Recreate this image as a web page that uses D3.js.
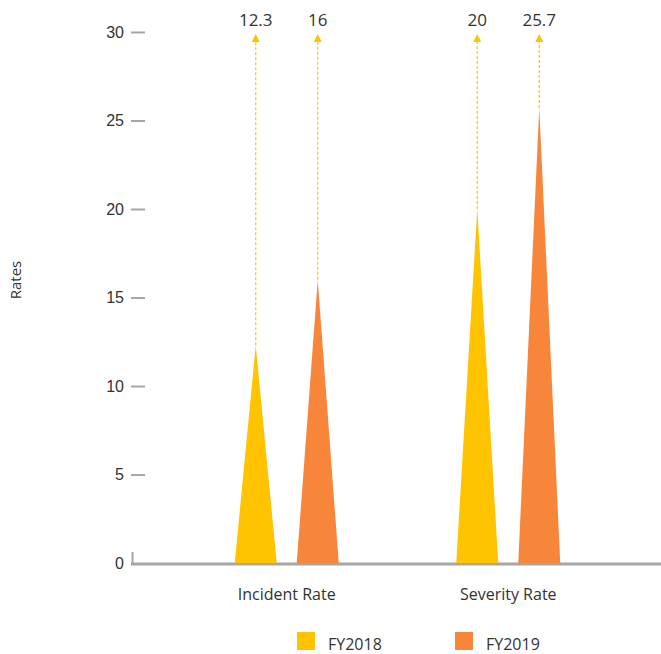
<!DOCTYPE html>
<html>
<head>
<meta charset="utf-8">
<script src="https://cdn.jsdelivr.net/npm/d3@7"></script>
<style>
  body { margin: 0; background: #fff; }
  svg { display: block; font-family: "Open Sans", sans-serif; }
</style>
</head>
<body>
<div class="container"></div>
<script>
// chart data
const categories = ["Incident Rate", "Severity Rate"];
const series = ["FY2018", "FY2019"];
const fy2018 = [12.3, 20];
const fy2019 = [16, 25.7];
const yTicks = [0, 5, 10, 15, 20, 25, 30];
const colors = ["#FFC300", "#F7863A"];

const w = 661, h = 654;
const values = [fy2018, fy2019];

const svg = d3.select(".container").append("svg")
    .attr("width", w)
    .attr("height", h);

/* scales */
const yScale = d3.scaleLinear().domain([0, 30]).range([563, 32]);
const xScale = d3.scaleBand().domain(categories).range([176, 619]);
const xInner = d3.scalePoint().domain(series).range([-31, 31]);
const halfBase = 21;

/* y axis - ticks only */
const yAxis = d3.axisLeft(yScale).tickValues(yTicks).tickSize(14).tickPadding(7);
const gy = svg.append("g")
    .attr("transform", "translate(145, 0)")
    .call(yAxis);
gy.select(".domain").remove();
gy.selectAll(".tick line").attr("stroke", "#a6a6a6").attr("stroke-width", 2);
gy.selectAll(".tick text")
    .attr("fill", "#333")
    .style("font-size", "16px");
gy.selectAll(".tick").filter(d => d === 0).select("line").remove();

/* baseline */
svg.append("line")
    .attr("x1", 131).attr("x2", w)
    .attr("y1", yScale(0) + 1).attr("y2", yScale(0) + 1)
    .attr("stroke", "#a6a6a6").attr("stroke-width", 3);
svg.append("line")
    .attr("x1", 132.5).attr("x2", 132.5)
    .attr("y1", yScale(0) - 11).attr("y2", yScale(0))
    .attr("stroke", "#a6a6a6").attr("stroke-width", 2);

/* y axis title */
svg.append("text")
    .attr("transform", "translate(21, 280) rotate(-90)")
    .attr("text-anchor", "middle")
    .attr("fill", "#333")
    .style("font-size", "15px")
    .text("Rates");

/* arrowhead marker */
svg.append("defs").append("marker")
    .attr("id", "arrow")
    .attr("viewBox", "0 0 10 10")
    .attr("refX", 5).attr("refY", 5)
    .attr("markerWidth", 8).attr("markerHeight", 8)
    .attr("markerUnits", "userSpaceOnUse")
    .attr("orient", "auto")
    .append("path")
    .attr("d", "M0,0 L10,5 L0,10 Z")
    .attr("fill", "#FFC300");

const points = [];
series.forEach((s, i) => {
    categories.forEach((c, j) => {
        points.push({ cat: c, s: s, v: values[i][j], color: colors[i] });
    });
});
const cx = d => xScale(d.cat) + xScale.bandwidth() / 2 + xInner(d.s);

/* triangles */
svg.selectAll("path.spike")
    .data(points)
    .enter()
    .append("path")
    .attr("class", "spike")
    .attr("fill", d => d.color)
    .attr("d", d => {
        const x = cx(d);
        return "M" + (x - halfBase) + "," + yScale(0) +
               "L" + x + "," + yScale(d.v) +
               "L" + (x + halfBase) + "," + yScale(0) + "Z";
    });

/* dashed leader lines */
svg.selectAll("line.leader")
    .data(points)
    .enter()
    .append("line")
    .attr("class", "leader")
    .attr("x1", d => cx(d)).attr("x2", d => cx(d))
    .attr("y1", d => yScale(d.v)).attr("y2", 38)
    .attr("stroke", "#FFC300")
    .attr("stroke-width", 1.2)
    .attr("stroke-dasharray", "3,2")
    .attr("marker-end", "url(#arrow)");

/* value labels */
svg.selectAll("text.val")
    .data(points)
    .enter()
    .append("text")
    .attr("class", "val")
    .attr("x", d => cx(d))
    .attr("y", 26)
    .attr("text-anchor", "middle")
    .attr("fill", "#333")
    .style("font-size", "17px")
    .text(d => d.v);

/* category labels */
svg.selectAll("text.cat")
    .data(categories)
    .enter()
    .append("text")
    .attr("class", "cat")
    .attr("x", d => xScale(d) + xScale.bandwidth() / 2)
    .attr("y", 600)
    .attr("text-anchor", "middle")
    .attr("fill", "#333")
    .style("font-size", "16px")
    .text(d => d);

/* legend */
const legendX = [297, 455];
const legend = svg.append("g").attr("id", "legend");
series.forEach((s, i) => {
    legend.append("rect")
        .attr("x", legendX[i]).attr("y", 632)
        .attr("width", 18).attr("height", 18)
        .attr("fill", colors[i]);
    legend.append("text")
        .attr("x", legendX[i] + 31).attr("y", 650)
        .attr("fill", "#333")
        .style("font-size", "16px")
        .text(s);
});
</script>
</body>
</html>
